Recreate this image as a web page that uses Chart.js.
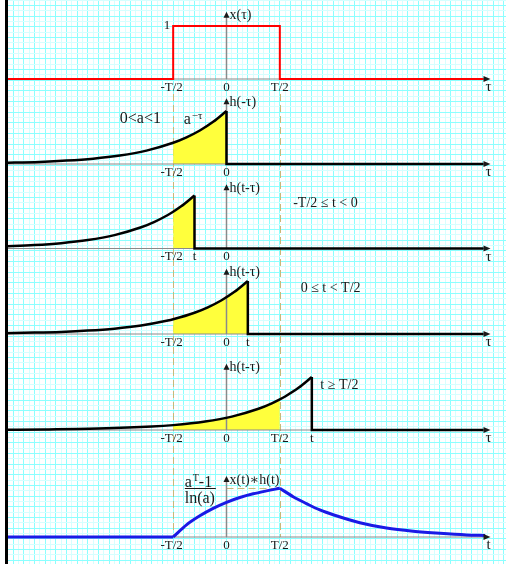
<!DOCTYPE html>
<html>
<head>
<meta charset="utf-8">
<title>Свёртка x(t)∗h(t)</title>
<script src="https://cdn.jsdelivr.net/npm/chart.js@4.4.1/dist/chart.umd.min.js"></script>
<style>
  html, body { margin: 0; padding: 0; background: #fff; }
  .box { position: relative; width: 506px; height: 564px; }
</style>
</head>
<body>
<div class="box"><canvas id="convChart"></canvas></div>
<script>
// ----------------- Datos (τ en unidades de T/2) -----------------

// x(τ): pulso rectangular
const pulseTau = [-4.2, -1, -1, 1, 1, 4.82];
const pulseVal = [0, 0, 1, 1, 0, 0];

// h(-τ)
const h0Tau = [-4.2, -3.5, -3, -2.5, -2, -1.5, -1, -0.75, -0.5, -0.25, 0];
const h0Val = [0.021, 0.04, 0.064, 0.101, 0.16, 0.253, 0.4, 0.503, 0.632, 0.795, 1];

// h(t-τ), -T/2 <= t < 0
const h1Tau = [-4.2, -3.6, -3.1, -2.6, -2.1, -1.6, -1.35, -1.1, -1, -0.85, -0.6];
const h1Val = [0.037, 0.064, 0.101, 0.16, 0.253, 0.4, 0.503, 0.632, 0.693, 0.795, 1];

// h(t-τ), 0 <= t < T/2
const h2Tau = [-4.2, -3.6, -3.1, -2.6, -2.1, -1.6, -1.1, -1, -0.6, -0.35, -0.1, 0.15, 0.4];
const h2Val = [0.015, 0.026, 0.04, 0.064, 0.101, 0.16, 0.253, 0.277, 0.4, 0.503, 0.632, 0.795, 1];

// h(t-τ), t >= T/2
const h3Tau = [-4.2, -3.4, -2.4, -1.4, -1, -0.4, 0.1, 0.6, 0.85, 1, 1.1, 1.35, 1.6];
const h3Val = [0.005, 0.01, 0.026, 0.064, 0.092, 0.16, 0.253, 0.4, 0.503, 0.577, 0.632, 0.795, 1];

// x(t)*h(t)
const outTau = [-4.2, -1, -0.75, -0.5, -0.25, 0, 0.25, 0.5, 0.75, 1,
                1.25, 1.5, 1.75, 2, 2.5, 3, 3.5, 4, 4.5, 4.85];
const outVal = [0, 0, 0.23, 0.4, 0.54, 0.655, 0.745, 0.815, 0.87, 0.92,
                0.76, 0.63, 0.51, 0.42, 0.27, 0.17, 0.11, 0.07, 0.04, 0.03];

// Etiquetas de cada franja
const tickMarks = [
  [['-T/2', -1], ['0', 0], ['T/2', 1]],
  [['-T/2', -1], ['0', 0]],
  [['-T/2', -1], ['t', -0.6], ['0', 0]],
  [['-T/2', -1], ['0', 0], ['t', 0.4]],
  [['-T/2', -1], ['0', 0], ['T/2', 1], ['t', 1.6]],
  [['-T/2', -1], ['0', 0], ['T/2', 1]]
];
const axisNames = ['x(τ)', 'h(-τ)', 'h(t-τ)', 'h(t-τ)', 'h(t-τ)', 'x(t)∗h(t)'];
const varNames = ['τ', 'τ', 'τ', 'τ', 'τ', 't'];
const conditions = ['', '', '-T/2 ≤ t < 0', '0 ≤ t < T/2', 't ≥ T/2', ''];

// ----------------- Geometría -----------------

const W = 506, H = 564;
const ZERO_X = 226.5;     // px de τ = 0
const PX_X = 53.33;       // px por T/2
const PX_Y = 53;          // px por unidad de amplitud
const CELL = 10.667;      // cuadrícula
const baseY = [79, 164, 248.5, 334, 430, 537];
const axisTop = [1.27, 1.24, 1.21, 1.23, 1.25, 1.15];
const AXIS_END = 4.95;
const condPos = [null, null, [1.25, 0.86], [1.39, 0.87], [1.76, 0.85], null];

const palette = {
  pulse: '#ff0000',
  curve: '#000000',
  out: '#1a1ae6',
  fill: '#ffff3c',
  axis: '#8a8a8a',
  guide: '#c8b878',
  text: '#1a1a1a',
  gridMajor: '#8cffff',
  gridMinor: '#d6ffff'
};

// ----------------- Datasets -----------------

const pts = (ts, vs) => ts.map((t, i) => ({ x: t, y: vs[i] }));
const datasets = [];

function addLine(panel, data, color, width, extra = {}) {
  datasets.push(Object.assign({
    data,
    yAxisID: 'p' + panel,
    borderColor: color,
    borderWidth: width,
    pointRadius: 0,
    fill: false,
    tension: 0,
    order: 1
  }, extra));
}

// ejes de cada franja
baseY.forEach((b, i) => {
  addLine(i, [{ x: -4.2, y: 0 }, { x: AXIS_END - 0.1, y: 0 }], palette.axis, 1, { order: 2 });
  addLine(i, [{ x: 0, y: 0 }, { x: 0, y: axisTop[i] - 0.08 }], palette.axis, 1.5, { order: 2 });
});

addLine(0, pts(pulseTau, pulseVal), palette.pulse, 2);

[[h0Tau, h0Val], [h1Tau, h1Val], [h2Tau, h2Val], [h3Tau, h3Val]].forEach(([ts, vs], j) => {
  const panel = j + 1;
  const data = pts(ts, vs);
  const t = ts[ts.length - 1];
  const hi = Math.min(t, 1);
  addLine(panel, data.filter(p => p.x >= -1 && p.x <= hi), 'rgba(0,0,0,0)', 0, {
    fill: 'origin', backgroundColor: palette.fill, cubicInterpolationMode: 'monotone', order: 3
  });
  addLine(panel, data, palette.curve, 2.5, { cubicInterpolationMode: 'monotone' });
  addLine(panel, [{ x: t, y: vs[vs.length - 1] }, { x: t, y: 0 }, { x: 4.82, y: 0 }], palette.curve, 2.5);
});

const outPts = pts(outTau, outVal);
addLine(5, outPts.filter(p => p.x <= -1), palette.out, 3);
addLine(5, outPts.filter(p => p.x >= -1 && p.x <= 1), palette.out, 3, { cubicInterpolationMode: 'monotone' });
addLine(5, outPts.filter(p => p.x >= 1), palette.out, 3, { cubicInterpolationMode: 'monotone' });

// ----------------- Escalas -----------------

const scales = {
  x: {
    type: 'linear',
    position: 'bottom',
    min: -ZERO_X / PX_X,
    max: (W - ZERO_X) / PX_X,
    border: { display: false },
    grid: {
      drawTicks: false,
      color: (c) => Math.round(c.tick.value * 10) % 2 === 0 ? palette.gridMajor : palette.gridMinor
    },
    ticks: { display: false, stepSize: 0.1, includeBounds: false }
  },
  gy: {
    type: 'linear',
    position: 'left',
    reverse: true,
    min: -0.5,
    max: H / CELL - 0.5,
    border: { display: false },
    grid: {
      drawTicks: false,
      color: (c) => Number.isInteger(Math.round(c.tick.value * 2) / 2) ? palette.gridMajor : palette.gridMinor
    },
    ticks: { display: false, stepSize: 0.5, includeBounds: false }
  }
};

baseY.forEach((b, i) => {
  scales['p' + i] = {
    type: 'linear', axis: 'y', position: 'left', display: false,
    min: (b - H) / PX_Y, max: b / PX_Y
  };
});

// ----------------- Dibujo de anotaciones -----------------

function txt(ctx, s, x, y, size, align = 'center') {
  ctx.font = size + 'px "Liberation Serif", "DejaVu Serif", serif';
  ctx.textAlign = align;
  ctx.textBaseline = 'middle';
  ctx.fillText(s, x, y);
}

const decor = {
  id: 'decor',
  beforeDatasetsDraw(chart) {
    const { ctx, scales: s } = chart;
    const top = s.p0.getPixelForValue(0) + 15;
    const bottom = s.p5.getPixelForValue(0);
    ctx.save();
    ctx.strokeStyle = palette.guide;
    ctx.lineWidth = 1;
    ctx.setLineDash([7, 4]);
    [-1, 1].forEach(t => {
      const px = Math.round(s.x.getPixelForValue(t)) + 0.5;
      ctx.beginPath();
      ctx.moveTo(px, top);
      ctx.lineTo(px, bottom);
      ctx.stroke();
    });
    // nivel del máximo de la salida
    const peak = Math.max(...outVal);
    const py = Math.round(s.p5.getPixelForValue(peak)) + 0.5;
    ctx.beginPath();
    ctx.moveTo(s.x.getPixelForValue(0), py);
    ctx.lineTo(s.x.getPixelForValue(1), py);
    ctx.stroke();
    ctx.restore();
  },
  afterDatasetsDraw(chart) {
    const { ctx, scales: s } = chart;
    const x = s.x;
    ctx.save();
    ctx.fillStyle = palette.text;

    baseY.forEach((b, i) => {
      const sc = s['p' + i];
      const by = sc.getPixelForValue(0);
      const xe = x.getPixelForValue(AXIS_END);
      const x0 = x.getPixelForValue(0);
      const ty = sc.getPixelForValue(axisTop[i]);

      // flechas
      ctx.beginPath();
      ctx.moveTo(xe, by);
      ctx.lineTo(xe - 7, by - 3);
      ctx.lineTo(xe - 7, by + 3);
      ctx.closePath();
      ctx.fill();
      ctx.beginPath();
      ctx.moveTo(x0, ty);
      ctx.lineTo(x0 - 3, ty + 6);
      ctx.lineTo(x0 + 3, ty + 6);
      ctx.closePath();
      ctx.fill();

      txt(ctx, axisNames[i], x0 + 3, ty + 4, 14, 'left');
      tickMarks[i].forEach(([lab, t]) => {
        const dx = lab.startsWith('-') ? -1.5 : 0;
        txt(ctx, lab, x.getPixelForValue(t) + dx, by + 8.5, 13);
      });
      txt(ctx, varNames[i], xe - 2, by + 8.5, 15);

      if (condPos[i]) {
        txt(ctx, conditions[i], x.getPixelForValue(condPos[i][0]), sc.getPixelForValue(condPos[i][1]), 14, 'left');
      }
    });

    // amplitud del pulso
    txt(ctx, '1', x.getPixelForValue(-1) - 3, s.p0.getPixelForValue(1), 13, 'right');

    // h(-τ) = a^-τ
    txt(ctx, '0<a<1', x.getPixelForValue(-2.0), s.p1.getPixelForValue(0.85), 16, 'left');
    const ax = x.getPixelForValue(-0.8);
    const ay = s.p1.getPixelForValue(0.83);
    txt(ctx, 'a', ax, ay, 16, 'left');
    txt(ctx, '−τ', ax + 8, ay - 4, 11, 'left');

    // (a^T - 1) / ln(a)
    const fx = x.getPixelForValue(-0.5);
    const barY = Math.round(s.p5.getPixelForValue(Math.max(...outVal))) + 0.5;
    txt(ctx, 'a', fx - 15, barY - 6, 16, 'left');
    txt(ctx, 'T', fx - 7, barY - 10, 10, 'left');
    txt(ctx, '-1', fx - 1, barY - 6, 16, 'left');
    ctx.strokeStyle = palette.text;
    ctx.lineWidth = 1;
    ctx.beginPath();
    ctx.moveTo(fx - 15, barY);
    ctx.lineTo(fx + 16, barY);
    ctx.stroke();
    txt(ctx, 'ln(a)', fx, barY + 10, 16);

    ctx.restore();
  },
  afterDraw(chart) {
    const { ctx } = chart;
    ctx.save();
    ctx.fillStyle = '#ffffff';
    ctx.fillRect(0, 0, 5, H);
    ctx.fillStyle = '#000000';
    ctx.fillRect(5, 0, 3, H);
    ctx.restore();
  }
};

// ----------------- Init -----------------

const canvas = document.getElementById('convChart');
canvas.width = W;
canvas.height = H;

new Chart(canvas.getContext('2d'), {
  type: 'line',
  data: { datasets },
  options: {
    responsive: false,
    animation: false,
    events: [],
    layout: { padding: 0, autoPadding: false },
    plugins: { legend: { display: false }, tooltip: { enabled: false } },
    scales
  },
  plugins: [decor]
});
</script>
</body>
</html>
